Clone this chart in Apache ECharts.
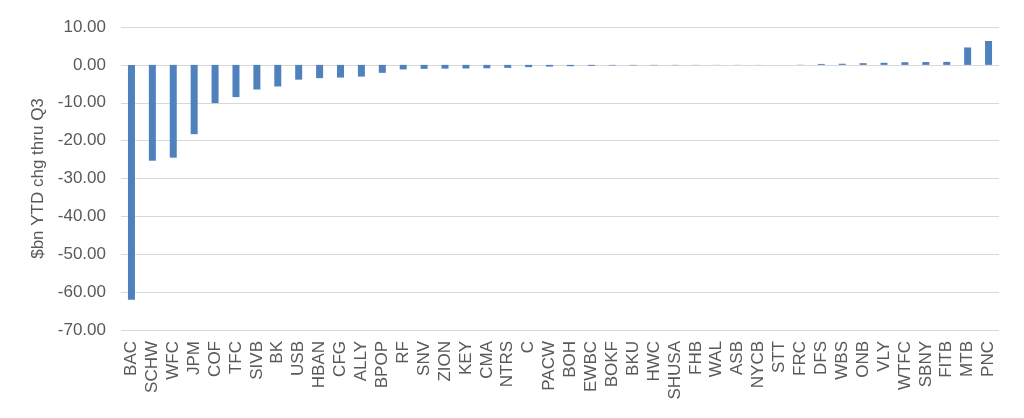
<!DOCTYPE html>
<html>
<head>
<meta charset="utf-8">
<script src="https://cdn.jsdelivr.net/npm/echarts@6/dist/echarts.min.js"></script>
<style>html,body{margin:0;padding:0;background:#fff}#c{width:1024px;height:418px}</style>
</head>
<body>
<div id="c"></div>
<script>
var categories = ["BAC","SCHW","WFC","JPM","COF","TFC","SIVB","BK","USB","HBAN","CFG","ALLY","BPOP","RF","SNV","ZION","KEY","CMA","NTRS","C","PACW","BOH","EWBC","BOKF","BKU","HWC","SHUSA","FHB","WAL","ASB","NYCB","STT","FRC","DFS","WBS","ONB","VLY","WTFC","SBNY","FITB","MTB","PNC"];
var values = [-62.0,-25.3,-24.5,-18.3,-10.1,-8.5,-6.5,-5.7,-3.9,-3.5,-3.35,-3.1,-2.1,-1.2,-1.05,-1.0,-0.95,-0.9,-0.8,-0.6,-0.45,-0.35,-0.25,-0.15,-0.12,-0.1,-0.08,-0.05,-0.04,-0.03,-0.02,0.0,0.05,0.25,0.3,0.45,0.55,0.7,0.75,0.8,4.6,6.3];
var yAxisTitle = "$bn YTD chg thru Q3";

var chart = echarts.init(document.getElementById('c'), null, {renderer:'canvas'});
var font = "'Liberation Sans', Arial, sans-serif";
chart.setOption({
  animation: false,
  grid: {left: 121, right: 25, top: 27, bottom: 88},
  xAxis: {
    type: 'category',
    data: categories,
    axisLine: {show: false, onZero: false},
    axisTick: {show: false},
    axisLabel: {rotate: 90, interval: 0, margin: 11, color: '#595959', fontSize: 17, fontFamily: font}
  },
  yAxis: {
    type: 'value',
    min: -70, max: 10, interval: 10,
    name: yAxisTitle,
    nameLocation: 'middle',
    nameRotate: 90,
    nameGap: 69,
    nameTextStyle: {color: '#595959', fontSize: 17, fontFamily: font},
    axisLine: {show: false},
    axisTick: {show: false},
    axisLabel: {margin: 15, color: '#595959', fontSize: 17, fontFamily: font,
      formatter: function(v){ return v.toFixed(2); }},
    splitLine: {lineStyle: {color: '#d9d9d9', width: 1}}
  },
  series: [{
    type: 'bar',
    data: values,
    barWidth: 7,
    itemStyle: {color: '#4F81BD'}
  }]
});
</script>
</body>
</html>
